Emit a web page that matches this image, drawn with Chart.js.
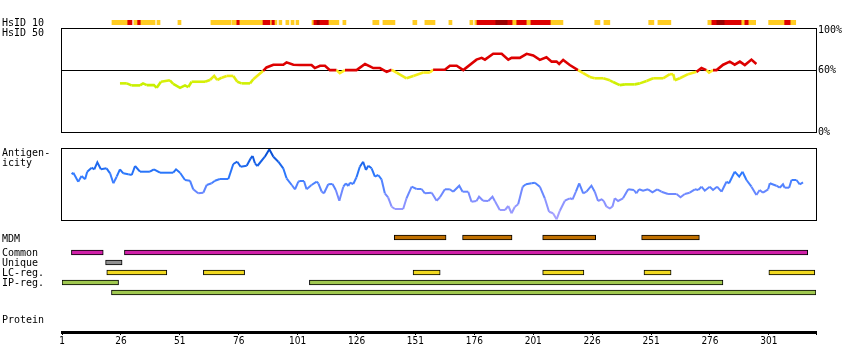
<!DOCTYPE html>
<html><head><meta charset="utf-8">
<script src="https://cdn.jsdelivr.net/npm/chart.js@4.4.1/dist/chart.umd.min.js"></script>
<style>
html,body{margin:0;padding:0;background:#fff;}
#wrap{position:relative;width:850px;height:360px;overflow:hidden;background:#fff;}
canvas{position:absolute;left:0;}
.lbl{position:absolute;left:2px;font:10px/10px 'DejaVu Sans Mono',monospace;color:#000;white-space:pre;}
</style></head><body>
<div id="wrap">
  <canvas id="cH10" width="850" height="5" style="top:20px"></canvas>
  <canvas id="cH50" width="850" height="124" style="top:18px"></canvas>
  <canvas id="cAg" width="850" height="96" style="top:136px"></canvas>
  <canvas id="cMdm" width="850" height="10" style="top:233px"></canvas>
  <canvas id="cRows" width="850" height="51" style="top:247px"></canvas>
  <canvas id="cAxis" width="850" height="50" style="top:300px"></canvas>
  <div class="lbl" style="top:18px">HsID 10</div>
  <div class="lbl" style="top:28px">HsID 50</div>
  <div class="lbl" style="top:148px">Antigen-<br>icity</div>
  <div class="lbl" style="top:234px">MDM</div>
  <div class="lbl" style="top:248px">Common</div>
  <div class="lbl" style="top:258px">Unique</div>
  <div class="lbl" style="top:268px">LC-reg.</div>
  <div class="lbl" style="top:278px">IP-reg.</div>
  <div class="lbl" style="top:315px">Protein</div>
</div>
<script>
// ---------------- DATA ----------------
const proteinTicks = [1, 26, 51, 76, 101, 126, 151, 176, 201, 226, 251, 276, 301];
const proteinLength = 321;
const pctTicks = [0, 60, 100];
const trackRows = ['Common', 'Unique', 'LC-reg.', 'IP-reg.', 'IP-reg. (2)'];

// HsID 10 identity blocks (residue start, end, level 1=yellow 2=red 3=dark red)
const hsid10Start = [22.2,28.9,31.5,33.1,34.5,41.3,50.2,64.2,73.1,75.2,76.5,86.3,89.5,90.1,91.4,93.1,96,98.2,100.3,
  107.1,107.9,109.2,110.5,114.3,120.2,132.9,137.2,149.9,155,165.2,174.1,176.2,177.1,185.1,190.2,192.3,194,198.3,200,208.5,227.1,
  231,250,253.9,275.1,276.8,278.9,282.3,289.5,290.8,292.5,300.9,307.7,310.3];
const hsid10End = [28.9,30.7,33.1,34.5,40.5,42.6,51.5,72.7,75.2,76.5,86.3,89.5,90.1,91.4,92.2,94.3,97.3,99.5,101.5,
  107.9,109.2,110.5,114.3,118.5,121.5,135.5,142.3,151.6,159.3,166.5,175.4,177.1,185.1,190.2,192.3,194,198.3,200,208.5,213.6,229.3,
  233.5,252.2,259.4,276.8,278.9,282.3,289.5,290.8,292.5,295.4,307.7,310.3,312.4];
const hsid10Level = [1,2,1,2,1,1,1,1,1,2,1,2,1,2,1,1,1,1,1,
  1,2,3,2,1,1,1,1,1,1,1,1,1,2,3,2,1,2,1,2,1,1,
  1,1,1,1,2,3,2,1,2,1,1,2,1];

// HsID 50 (% identity)
const hsid50Pos = [25.6,28.5,30.5,34.1,35.4,37,40,41.2,43,46.8,48.2,51.1,53.2,54.6,56,61.7,63.8,65.6,66.9,68.8,70.9,73.7,75.4,77.2,80.8,82.2,86.4,87.8,90.7,94.9,96.3,99.2,
  102,106.9,108.3,110.5,112.6,114.7,117.5,118.9,121.1,126,129.6,131.7,133.1,135.9,138.8,140.9,143,147.2,150.1,154.3,157.1,158.5,163.5,165.6,168.5,171.3,176.9,179.1,180.5,184,187.6,190.4,191.8,195.3,198.2,201,203.8,206.6,208.8,210.9,212,213.7,216.5,
  220,222.2,225,227.1,230.7,233.5,234.9,237.7,239.9,244.1,246.2,249.1,251.9,256.1,259,260.4,261.1,263.2,266.7,270.3,272.4,274.5,275.6,277.3,278.8,281.6,284.4,286.5,288.7,290.8,293.6,295.7];
const hsid50Val = [47.7,47.7,45.7,45.7,47.7,46,46,43.3,49.3,50.7,47.3,43.3,45.7,44,49.3,49.3,51,55,51,53.3,55,55,49.3,47.7,47.7,51.7,60,63.3,66,66,68.3,66,
  65.7,65.7,62.7,65,65,60.7,60.7,57.7,60.7,60.7,66.7,64.3,62.7,62.7,59,61,58.3,52.7,55,58.3,58.3,61,61,65,65,60.7,71,72.7,71,76.7,76.7,71,72.7,72.7,76.7,75,70.7,73.3,69,69,66.7,70.7,65.7,
  60.7,57.7,54,52.7,52.7,50.7,49,46,46.7,46.7,47.7,50,52.7,52.7,56.7,56.7,50.7,52.7,56.7,59,62.7,60.7,58.3,60.7,60.7,66,69,66,69,65.7,71,66.7];

// Antigenicity score
const agPos = [5.1,5.8,7.9,9.3,10.8,11.7,13.6,14.7,16,17.5,19.9,21.4,22.8,24.2,25.6,27,29.1,30.6,32,34.1,38.3,40,42.6,48.2,49.4,51.1,53.2,55.3,56.7,58.8,61,62.4,64.5,65.9,68,71.6,73.7,75.4,76.8,79.4,81.1,81.9,82.9,83.9,87.1,89,90.7,92.8,94.9,96.3,98.5,99.9,101.3,
  102,103.7,104.8,106.9,109.1,109.8,111.2,112.2,114,115.8,117.2,118.7,120.4,121.5,122.5,123.2,124.6,126,127.4,128.8,130,131,132.4,133.8,135.2,136.6,138,139.4,140.9,142.3,145.8,147.2,149.4,151.5,153.6,155,157.9,160,161.4,163.5,165.6,167,169.6,171,173.4,174.8,176.9,178,179.7,181.9,183.7,184.7,186.8,189,190.4,191.8,193.2,194.6,196.5,197.9,200.3,201.7,203.8,205.9,207.7,209.4,210.9,212.3,214.4,216.5,217.7,219.1,220.5,
  222.2,223.6,225.7,227.1,228.5,230,230.9,232.1,233.5,234.6,235.6,237,239.1,241.3,243.7,244.8,245.9,247.6,249.7,251.6,253.6,255.4,258.2,261.8,263.5,265.3,267.4,269.6,271,272.4,273.8,275.9,277.3,279,280.9,283,284.1,286.5,288.4,289.8,291.5,293.6,295.7,297.1,298.5,300.7,301.4,304.2,305.6,307,307.7,309.6,310.6,312.7,314.1,315.5];
const agVal = [45.7,47.3,38.3,44,40.7,48.3,52.3,50.7,57.7,50.7,51.7,46.7,36.7,43.3,50.7,46.7,45.7,45,54,48.3,48.3,50.7,47.3,47.3,50.7,47.3,40,39.3,30.7,26.7,27.3,35,36.7,39.3,41,41,56,58.3,53.3,54.3,61.7,64,56.7,54,63.3,70.7,63.3,58.3,51.7,41.7,35,30.7,38.3,
  39,39,30.7,35,38.3,36.7,28.3,26.7,35.7,36,30,19.3,33.3,36.7,34,37.3,36,42.7,53.3,58.3,50,54.3,51.7,43.3,45,40.7,26.7,22.7,13.3,11,11,21.7,33.3,31,31,26.7,27.3,19.3,22.7,30.7,30.7,28.3,34.3,28.3,28.3,18.3,19,23.3,19.3,19,23.3,19,10,10,14,6.7,13.3,15.7,33.3,35.7,36.7,37.3,33.3,21.7,8.3,6.7,0.7,9.3,19.3,21.7,20.7,28.3,36.7,
  26.7,28.3,34.3,28.3,19,20.7,19,13.3,11.7,13.3,21.7,19,21.7,30.7,30,26.7,30.7,29.3,30.7,27.7,30.7,28.3,26,26,22.7,26,27.3,30.7,30,33.3,29.3,33.3,30,33.3,28.3,38.3,36.7,48.3,43.3,48.3,40,33.3,25,30,27.3,30.7,36.7,34.3,32.3,35.7,32.3,32.3,40,40,35.7,37.7];

// Annotation tracks (residue ranges)
const mdmStart = [142, 171, 205, 247];
const mdmEnd   = [164, 192, 227.5, 271.5];
const commonStart = [5, 27.5];
const commonEnd   = [18.5, 317.5];
const uniqueStart = [19.5];
const uniqueEnd   = [26.5];
const lcStart = [20, 61, 150, 205, 248, 301];
const lcEnd   = [45.5, 78.5, 161.5, 222.5, 259.5, 320.5];
const ipStart = [1, 106];
const ipEnd   = [25, 281.5];
const ip2Start = [22];
const ip2End   = [321];

// ---------------- RENDER ----------------
Chart.defaults.font.family = "'DejaVu Sans Mono', monospace";
Chart.defaults.font.size = 10;
Chart.defaults.color = '#000';

const X_SCALE = {type:'linear', min:1, max:proteinLength, display:false};
function base(extra){
  return Object.assign({responsive:false, maintainAspectRatio:false, animation:false, devicePixelRatio:1, events:[],
    plugins:{legend:{display:false}, tooltip:{enabled:false}}}, extra);
}
const boxPlugin = {id:'box', afterDraw(chart){
  const a = chart.chartArea, c = chart.ctx;
  const L = Math.round(a.left), R = Math.round(a.right), T = Math.round(a.top), B = Math.round(a.bottom);
  c.save(); c.strokeStyle = '#000'; c.lineWidth = 1;
  c.strokeRect(L - 0.5, T + 0.5, R - L + 1, B - T);
  c.restore();
}};
function mix(a, b, t){ return 'rgb(' + a.map((v,i)=>Math.round(v + (b[i]-v)*t)).join(',') + ')'; }
function hsidColor(v){
  if (v >= 60) return '#dd0000';
  const t = Math.min(1, Math.max(0, (60 - v) / 14));
  return mix([255,236,30],[200,240,0],t);
}
const agStops = [[0,[175,165,255]],[22,[125,140,255]],[45,[45,122,255]],[72,[0,70,205]]];
function agColor(v){
  for (let i = 1; i < agStops.length; i++){
    if (v <= agStops[i][0]){
      const t = (v - agStops[i-1][0])/(agStops[i][0]-agStops[i-1][0]);
      return mix(agStops[i-1][1], agStops[i][1], Math.max(0,t));
    }
  }
  return mix(agStops[agStops.length-1][1], agStops[agStops.length-1][1], 0);
}
function pts(xs, ys){ return xs.map((x,i)=>({x:x, y:ys[i]})); }
function ranges(s, e, row){ return s.map((v,i)=>({x:[v, e[i]], y:row})); }

// HsID 10 track
const levelColors = ['#ffffff','#ffcc22','#dd0000','#990000'];
new Chart(document.getElementById('cH10'), {
  type:'bar',
  data:{labels:['HsID 10'], datasets:[{data:ranges(hsid10Start, hsid10End, 'HsID 10'),
    backgroundColor:ctx=>levelColors[hsid10Level[ctx.dataIndex]], borderWidth:0,
    barPercentage:1, categoryPercentage:1, grouped:false}]},
  options:base({indexAxis:'y', layout:{padding:{left:62,right:34,top:0,bottom:0}},
    scales:{x:X_SCALE, y:{type:'category', display:false}}})
});

// HsID 50 line
new Chart(document.getElementById('cH50'), {
  type:'line',
  data:{datasets:[{data:pts(hsid50Pos, hsid50Val), borderWidth:2.6, pointRadius:0, tension:0,
    borderColor:'#dd0000', segment:{borderColor:ctx=>hsidColor((ctx.p0.parsed.y + ctx.p1.parsed.y)/2)}}]},
  options:base({layout:{padding:{left:62,right:0,top:10,bottom:10}},
    scales:{x:X_SCALE,
      y:{type:'linear', min:0, max:102, position:'right',
        afterBuildTicks:s=>{ s.ticks = pctTicks.map(v=>({value:v})); },
        afterFit:s=>{ s.width = 34; },
        ticks:{callback:v=>v + '%', padding:2, autoSkip:false, color:'#000', font:{size:10}},
        grid:{drawTicks:false, lineWidth:1, color:ctx=>(ctx.tick && ctx.tick.value === 60) ? '#000' : 'rgba(0,0,0,0)'},
        border:{display:false}}}}),
  plugins:[boxPlugin]
});

// Antigenicity line
new Chart(document.getElementById('cAg'), {
  type:'line',
  data:{datasets:[{data:pts(agPos, agVal), borderWidth:2, pointRadius:0, tension:0,
    borderColor:'#3377ff', segment:{borderColor:ctx=>agColor((ctx.p0.parsed.y + ctx.p1.parsed.y)/2)}}]},
  options:base({layout:{padding:{left:62,right:34,top:12,bottom:12}},
    scales:{x:X_SCALE, y:{type:'linear', min:0, max:72, display:false}}}),
  plugins:[boxPlugin]
});

// MDM track
function trackDs(s, e, row, color, thick){
  return {data:ranges(s, e, row), backgroundColor:color, borderColor:'#000', borderWidth:1,
    borderSkipped:false, barThickness:thick, grouped:false};
}
new Chart(document.getElementById('cMdm'), {
  type:'bar',
  data:{labels:['MDM'], datasets:[trackDs(mdmStart, mdmEnd, 'MDM', '#c07000', 5)]},
  options:base({indexAxis:'y', layout:{padding:{left:62,right:34,top:0,bottom:1}},
    scales:{x:X_SCALE, y:{type:'category', display:false}}})
});

// Other tracks
new Chart(document.getElementById('cRows'), {
  type:'bar',
  data:{labels:trackRows, datasets:[
    trackDs(commonStart, commonEnd, trackRows[0], '#d020a8', 5),
    trackDs(uniqueStart, uniqueEnd, trackRows[1], '#909090', 5),
    trackDs(lcStart, lcEnd, trackRows[2], '#f0d820', 5),
    trackDs(ipStart, ipEnd, trackRows[3], '#a0c850', 5),
    trackDs(ip2Start, ip2End, trackRows[4], '#a0c850', 5)]},
  options:base({indexAxis:'y', layout:{padding:{left:62,right:34,top:0.5,bottom:0.5}},
    scales:{x:X_SCALE, y:{type:'category', display:false}}})
});

// Protein axis
new Chart(document.getElementById('cAxis'), {
  type:'line',
  data:{datasets:[]},
  options:base({layout:{padding:{left:62,right:34,top:0,bottom:0}},
    scales:{
      x:{type:'linear', min:1, max:proteinLength, position:'bottom',
        afterBuildTicks:s=>{ s.ticks = proteinTicks.concat([proteinLength]).map(v=>({value:v})); },
        afterFit:s=>{ s.height = 18; },
        ticks:{autoSkip:false, maxRotation:0, padding:0, color:'#000',
          font:{family:"'Liberation Sans Narrow','DejaVu Sans Condensed','DejaVu Sans'", size:10},
          callback:v=>proteinTicks.includes(v) ? String(v) : ''},
        grid:{drawOnChartArea:false, drawTicks:true, tickLength:3, color:'#000', lineWidth:1},
        border:{display:true, width:3, color:'#000'}},
      y:{display:false}}})
});
</script>
</body></html>
